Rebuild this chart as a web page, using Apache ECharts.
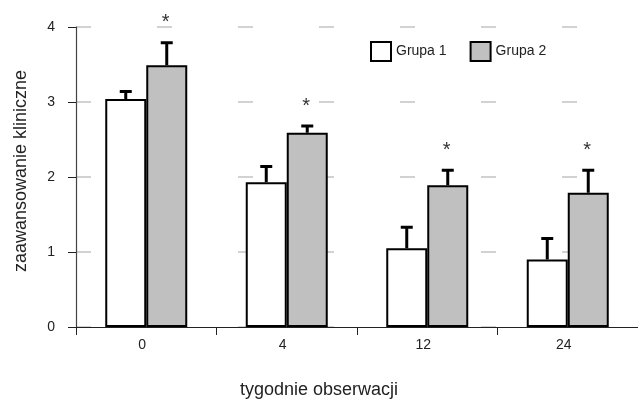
<!DOCTYPE html>
<html>
<head>
<meta charset="utf-8">
<script src="https://cdn.jsdelivr.net/npm/echarts@6/dist/echarts.min.js"></script>
<style>
  html, body { margin: 0; padding: 0; background: #fff; }
  #chart { width: 638px; height: 399px; }
</style>
</head>
<body>
<div id="chart"></div>
<script>
// dane
const weeks = ['0', '4', '12', '24'];
const grupa1 = [3.04, 1.93, 1.05, 0.90];
const grupa2 = [3.49, 2.59, 1.89, 1.79];
const err1 = [0.10, 0.21, 0.28, 0.28];
const err2 = [0.30, 0.09, 0.20, 0.30];
const significant = [true, true, true, true];

const font = 'Liberation Sans, Arial, sans-serif';
const BAR_W = 41;

// wąsy błędów: [kategoria, wartość, błąd, strona]
const errData = [];
weeks.forEach((w, i) => {
  errData.push([i, grupa1[i], err1[i], -1]);
  errData.push([i, grupa2[i], err2[i], 1]);
});
const starData = [];
weeks.forEach((w, i) => {
  if (significant[i]) starData.push([i, grupa2[i] + err2[i]]);
});

const chart = echarts.init(document.getElementById('chart'));

const option = {
  animation: false,
  textStyle: { fontFamily: font },
  title: {
    text: 'tygodnie obserwacji',
    left: 'center',
    top: 381,
    padding: [0, 2, 0, 0],
    textStyle: { fontFamily: font, fontSize: 18, fontWeight: 'normal', color: '#222' }
  },
  legend: {
    data: ['Grupa 1', 'Grupa 2'],
    left: 370,
    top: 41,
    padding: 0,
    icon: 'rect',
    itemWidth: 20,
    itemHeight: 19,
    itemGap: 23,
    textStyle: { fontFamily: font, fontSize: 14, color: '#222' }
  },
  grid: { left: 76, right: -2, top: 27, bottom: 72 },
  xAxis: {
    type: 'category',
    data: weeks,
    axisLine: { lineStyle: { color: '#222', width: 1 } },
    axisTick: { show: true, length: 8, interval: 0, lineStyle: { color: '#222' } },
    axisLabel: { fontSize: 14, color: '#222', margin: 11, padding: [0, 8, 0, 0] }
  },
  yAxis: {
    type: 'value',
    min: 0,
    max: 4,
    interval: 1,
    name: 'zaawansowanie kliniczne',
    nameLocation: 'middle',
    nameGap: 46,
    nameTextStyle: { fontFamily: font, fontSize: 18, color: '#222', padding: [0, 0, 0, 12] },
    axisLine: { show: true, lineStyle: { color: '#444', width: 1.2 } },
    axisTick: { show: true, length: 8, lineStyle: { color: '#222' } },
    axisLabel: { fontSize: 14, color: '#222', margin: 21, padding: [0, 0, 8, 0] },
    splitLine: { show: true, lineStyle: { color: '#c4c4c4', width: 1.5, type: [15, 66] } }
  },
  series: [
    {
      name: 'Grupa 1',
      type: 'bar',
      data: grupa1,
      barWidth: BAR_W,
      barGap: '0%',
      itemStyle: { color: '#ffffff', borderColor: '#000', borderWidth: 2 }
    },
    {
      name: 'Grupa 2',
      type: 'bar',
      data: grupa2,
      barWidth: BAR_W,
      barGap: '0%',
      itemStyle: { color: '#c0c0c0', borderColor: '#000', borderWidth: 2 }
    },
    {
      type: 'custom',
      data: errData,
      z: 5,
      silent: true,
      renderItem: function (params, api) {
        const i = api.value(0);
        const base = api.coord([i, api.value(1)]);
        const top = api.coord([i, api.value(1) + api.value(2)]);
        const x = base[0] + api.value(3) * BAR_W / 2;
        const style = { stroke: '#000', lineWidth: 3 };
        return {
          type: 'group',
          children: [
            { type: 'line', shape: { x1: x, y1: base[1], x2: x, y2: top[1] }, style: style },
            { type: 'line', shape: { x1: x - 6, y1: top[1], x2: x + 6, y2: top[1] }, style: style }
          ]
        };
      }
    },
    {
      type: 'custom',
      data: starData,
      z: 5,
      silent: true,
      renderItem: function (params, api) {
        const p = api.coord([api.value(0), api.value(1)]);
        return {
          type: 'text',
          x: p[0] + BAR_W / 2 - 1,
          y: p[1] - 20,
          style: {
            text: '*',
            fill: '#333',
            font: '20px ' + font,
            align: 'center',
            verticalAlign: 'middle'
          }
        };
      }
    }
  ]
};

chart.setOption(option);
</script>
</body>
</html>
